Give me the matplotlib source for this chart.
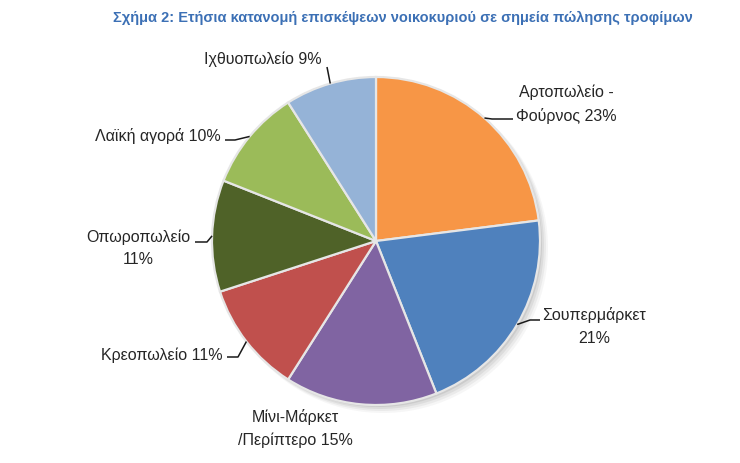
import numpy as np
import matplotlib
matplotlib.use("Agg")
import matplotlib.pyplot as plt
from matplotlib.patches import Circle

plt.rcParams['font.family'] = ['Liberation Sans', 'DejaVu Sans']

# data (clockwise from the top)
labels = ['Αρτοπωλείο -\nΦούρνος 23%', 'Σουπερμάρκετ\n21%', 'Μίνι-Μάρκετ\n/Περίπτερο 15%',
          'Κρεοπωλείο 11%', 'Οπωροπωλείο\n11%', 'Λαϊκή αγορά 10%', 'Ιχθυοπωλείο 9%']
shares = [23, 21, 15, 11, 11, 10, 9]
colors = ['#F79646', '#4F81BD', '#8064A2', '#C0504D', '#4F6228', '#9BBB59', '#95B3D7']
title = 'Σχήμα 2: Ετήσια κατανομή επισκέψεων νοικοκυριού σε σημεία πώλησης τροφίμων'

W, H = 740, 463
fig = plt.figure(figsize=(W / 100, H / 100), dpi=100)
ax = fig.add_axes([0, 0, 1, 1])
ax.set_xlim(0, W)
ax.set_ylim(H, 0)
ax.set_aspect('equal')
ax.axis('off')

cx, cy, R = 376, 241, 164

# soft shadow
for i, a in enumerate([0.05, 0.07, 0.09, 0.12]):
    off = 7 - i * 1.5
    ax.add_patch(Circle((cx + off, cy + off), R + 1 - i * 0.5, color='#555555', alpha=a, lw=0, zorder=1))

# y axis is inverted, so counterclock=True draws clockwise on screen
wedges, _ = ax.pie(shares, colors=colors, startangle=-90, counterclock=True,
                   center=(cx, cy), radius=R, frame=True,
                   wedgeprops=dict(edgecolor='#e6e6e6', linewidth=1.6))
for w in wedges:
    w.set_zorder(2)
ax.set_xlim(0, W)
ax.set_ylim(H, 0)
ax.axis('off')

# label layout: text position, alignment, leader knee, leader end (pixels)
layout = [
    dict(xy=(566, 104.5), ha='center', knee=(492, 119), end=(513, 119)),
    dict(xy=(594, 326.5), ha='center', knee=(530, 320), end=(540, 320)),
    dict(xy=(295, 428.5), ha='center', knee=None, end=None),
    dict(xy=(223, 355), ha='right', knee=(238, 357), end=(227, 357)),
    dict(xy=(138, 248.5), ha='center', knee=(207, 242), end=(195, 242)),
    dict(xy=(221, 136), ha='right', knee=(235, 140), end=(225, 140)),
    dict(xy=(322, 59), ha='right', knee=(328, 72), end=(327, 67)),
]

cum = np.cumsum([0] + shares[:-1])
for lab, s, c0, lay in zip(labels, shares, cum, layout):
    mid = np.deg2rad(90 - (c0 + s / 2) * 3.6)
    ex, ey = cx + R * np.cos(mid), cy - R * np.sin(mid)
    if lay['knee'] is not None:
        xs = [ex, lay['knee'][0], lay['end'][0]]
        ys = [ey, lay['knee'][1], lay['end'][1]]
        ax.plot(xs, ys, color='#1a1a1a', lw=1.1, zorder=3, solid_capstyle='butt')
    ax.text(lay['xy'][0], lay['xy'][1], lab, ha=lay['ha'], va='center', fontsize=11.5,
            color='#262626', linespacing=1.6, multialignment='center', zorder=4,
            transform=ax.transData)

ax.text(403, 18, title, ha='center', va='center', fontsize=10.5, fontweight='bold', color='#3C70B5')

fig.savefig('out.png', dpi=100)
